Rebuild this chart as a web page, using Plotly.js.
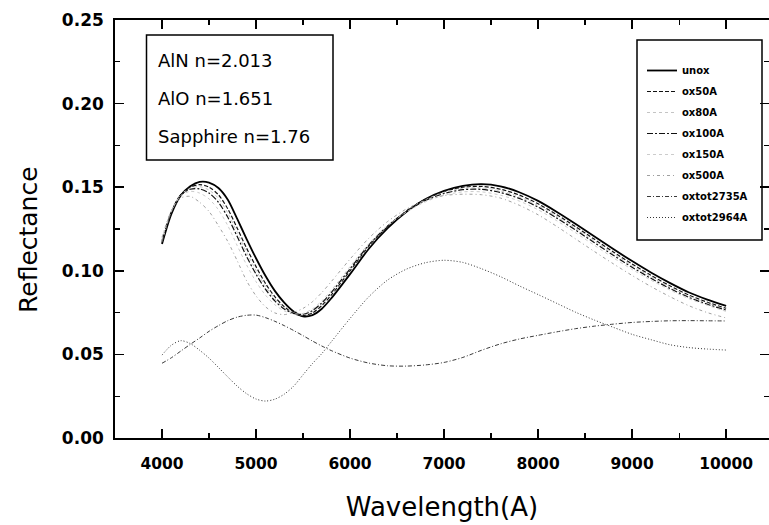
<!DOCTYPE html>
<html>
<head>
<meta charset="utf-8">
<script src="https://cdn.plot.ly/plotly-3.0.1.min.js"></script>
<style>html,body{margin:0;padding:0;background:#fff;}#chart{width:769px;height:525px;}</style>
</head>
<body>
<div id="chart"></div>
<script>
// Wavelength (Angstrom)
var wavelength = [4000,4100,4200,4300,4400,4500,4600,4700,4800,4900,5000,5100,5200,5300,5400,5500,5600,5700,5800,6000,6200,6400,6600,6800,7000,7200,7400,7600,7800,8000,8200,8400,8600,8800,9000,9200,9400,9600,9800,10000];

var unox = [0.1160,0.1340,0.1450,0.1505,0.1532,0.1528,0.1495,0.1425,0.1310,0.1190,0.1075,0.0970,0.0880,0.0810,0.0757,0.0728,0.0735,0.0773,0.0835,0.0980,0.1132,0.1255,0.1353,0.1428,0.1478,0.1508,0.1518,0.1505,0.1470,0.1418,0.1352,0.1280,0.1205,0.1130,0.1058,0.0990,0.0928,0.0872,0.0828,0.0790];
var ox50A = [0.1170,0.1350,0.1455,0.1500,0.1515,0.1500,0.1455,0.1370,0.1255,0.1135,0.1025,0.0925,0.0845,0.0785,0.0745,0.0732,0.0748,0.0792,0.0855,0.1000,0.1148,0.1265,0.1358,0.1428,0.1475,0.1500,0.1505,0.1488,0.1453,0.1401,0.1335,0.1263,0.1188,0.1113,0.1041,0.0973,0.0911,0.0856,0.0812,0.0775];
var ox80A = [0.1175,0.1353,0.1455,0.1494,0.1503,0.1483,0.1433,0.1345,0.1230,0.1110,0.1003,0.0908,0.0833,0.0779,0.0745,0.0736,0.0755,0.0800,0.0863,0.1006,0.1152,0.1267,0.1357,0.1424,0.1469,0.1493,0.1496,0.1478,0.1443,0.1391,0.1325,0.1253,0.1178,0.1103,0.1031,0.0964,0.0903,0.0849,0.0806,0.0770];
var ox100A = [0.1180,0.1355,0.1455,0.1488,0.1490,0.1465,0.1410,0.1320,0.1205,0.1085,0.0980,0.0890,0.0820,0.0772,0.0745,0.0740,0.0762,0.0808,0.0870,0.1012,0.1155,0.1268,0.1355,0.1420,0.1462,0.1485,0.1487,0.1468,0.1433,0.1381,0.1315,0.1243,0.1168,0.1093,0.1021,0.0955,0.0895,0.0842,0.0800,0.0765];
var ox150A = [0.1185,0.1358,0.1450,0.1475,0.1465,0.1430,0.1365,0.1270,0.1150,0.1035,0.0935,0.0855,0.0797,0.0760,0.0743,0.0745,0.0772,0.0820,0.0883,0.1025,0.1162,0.1270,0.1352,0.1412,0.1452,0.1472,0.1472,0.1452,0.1417,0.1365,0.1299,0.1227,0.1152,0.1078,0.1008,0.0944,0.0886,0.0834,0.0794,0.0757];
var ox500A = [0.1200,0.1360,0.1435,0.1445,0.1410,0.1355,0.1270,0.1175,0.1060,0.0940,0.0850,0.0785,0.0748,0.0738,0.0752,0.0775,0.0815,0.0870,0.0935,0.1070,0.1195,0.1295,0.1370,0.1420,0.1450,0.1458,0.1455,0.1435,0.1392,0.1335,0.1265,0.1190,0.1115,0.1042,0.0972,0.0906,0.0846,0.0792,0.0750,0.0718];
var oxtot2735A = [0.0447,0.0480,0.0520,0.0560,0.0598,0.0638,0.0672,0.0702,0.0723,0.0734,0.0735,0.0720,0.0698,0.0672,0.0643,0.0612,0.0580,0.0550,0.0523,0.0478,0.0448,0.0432,0.0430,0.0437,0.0452,0.0482,0.0525,0.0563,0.0592,0.0614,0.0635,0.0654,0.0669,0.0681,0.0691,0.0697,0.0701,0.0702,0.0701,0.0700];
var oxtot2964A = [0.0496,0.0555,0.0582,0.0565,0.0525,0.0478,0.0422,0.0365,0.0310,0.0265,0.0233,0.0221,0.0232,0.0262,0.0310,0.0378,0.0445,0.0505,0.0575,0.0715,0.0845,0.0945,0.1010,0.1048,0.1063,0.1050,0.1012,0.0965,0.0910,0.0858,0.0805,0.0752,0.0705,0.0662,0.0620,0.0588,0.0558,0.0541,0.0532,0.0526];

var seriesNames = ['unox','ox50A','ox80A','ox100A','ox150A','ox500A','oxtot2735A','oxtot2964A'];
var xTickVals = [4000,5000,6000,7000,8000,9000,10000];
var xTickText = ['4000','5000','6000','7000','8000','9000','10000'];
var yTickVals = [0.00,0.05,0.10,0.15,0.20,0.25];
var yTickText = ['0.00','0.05','0.10','0.15','0.20','0.25'];
var infoLines = ['AlN n=2.013','AlO n=1.651','Sapphire n=1.76'];
var xTitle = 'Wavelength(A)';
var yTitle = 'Reflectance';

var seriesData = [unox, ox50A, ox80A, ox100A, ox150A, ox500A, oxtot2735A, oxtot2964A];
var styles = [
  {color:'#000000', width:1.8, dash:'solid'},
  {color:'#111111', width:1.2, dash:'4px,2px'},
  {color:'#c4c4c4', width:1.0, dash:'dot'},
  {color:'#111111', width:1.2, dash:'6px,2px,2px,2px'},
  {color:'#cccccc', width:1.0, dash:'dot'},
  {color:'#a0a0a0', width:1.0, dash:'3px,3px,1px,3px'},
  {color:'#3a3a3a', width:1.0, dash:'4px,2px,1px,2px'},
  {color:'#333333', width:1.0, dash:'1px,2px'}
];

var traces = seriesNames.map(function(n, i){
  return {
    x: wavelength, y: seriesData[i], name: n, type: 'scatter', mode: 'lines',
    line: {color: styles[i].color, width: styles[i].width, dash: styles[i].dash, shape: 'spline', smoothing: 0.8},
    legendgroup: 'g' + i, hoverinfo: 'skip'
  };
});

var W = 769, H = 525;
var L = 115, R = 769, T = 20, B = 438;
function px2paperX(p){ return (p - L) / (R - L); }
function px2paperY(p){ return (B - p) / (B - T); }

var annotations = infoLines.map(function(t, i){
  return {
    text: t, xref: 'paper', yref: 'paper', x: px2paperX(156), y: px2paperY([60, 98.5, 136][i]),
    xanchor: 'left', yanchor: 'middle', showarrow: false,
    font: {family: 'DejaVu Sans', size: 18, color: '#000'}
  };
});
annotations.push({
  text: yTitle, xref: 'paper', yref: 'paper', x: px2paperX(28), y: px2paperY(240),
  xanchor: 'center', yanchor: 'middle', textangle: -90, showarrow: false,
  font: {family: 'DejaVu Sans', size: 25, color: '#000'}
});

var layout = {
  width: W, height: H,
  margin: {l: L, r: W - R, t: T, b: H - B, pad: 0},
  paper_bgcolor: '#fff', plot_bgcolor: '#fff',
  showlegend: true,
  legend: {
    x: px2paperX(642), y: px2paperY(56), xanchor: 'left', yanchor: 'top',
    bgcolor: 'rgba(0,0,0,0)', borderwidth: 0,
    font: {family: 'DejaVu Sans', size: 10, weight: 'bold', color: '#000'},
    traceorder: 'grouped', tracegroupgap: 2, itemwidth: 30
  },
  xaxis: {
    range: [3500, 10456], tickvals: xTickVals, ticktext: xTickText,
    ticks: 'inside', ticklen: 9, tickwidth: 1.5, tickcolor: '#000',
    minor: {dtick: 500, tick0: 3500, ticks: 'inside', ticklen: 5, tickwidth: 1.2, tickcolor: '#000'},
    showline: true, linewidth: 1.8, linecolor: '#000', mirror: 'ticks',
    showgrid: false, zeroline: false,
    tickfont: {family: 'DejaVu Sans', size: 15.5, weight: 'bold', color: '#000'},
    ticklabelstandoff: 11,
    title: {text: xTitle, font: {family: 'DejaVu Sans', size: 26, color: '#000'}, standoff: 25}
  },
  yaxis: {
    range: [0, 0.25], tickvals: yTickVals, ticktext: yTickText,
    ticks: 'inside', ticklen: 9, tickwidth: 1.5, tickcolor: '#000',
    minor: {dtick: 0.025, tick0: 0, ticks: 'inside', ticklen: 5, tickwidth: 1.2, tickcolor: '#000'},
    showline: true, linewidth: 1.8, linecolor: '#000', mirror: 'ticks',
    showgrid: false, zeroline: false,
    tickfont: {family: 'DejaVu Sans', size: 17, weight: 'bold', color: '#000'},
    ticklabelstandoff: 6
  },
  shapes: [
    {type: 'rect', xref: 'paper', yref: 'paper', x0: px2paperX(146.5), x1: px2paperX(333), y0: px2paperY(35), y1: px2paperY(160), line: {color: '#000', width: 1.5}, fillcolor: 'rgba(0,0,0,0)'},
    {type: 'rect', xref: 'paper', yref: 'paper', x0: px2paperX(637), x1: px2paperX(762), y0: px2paperY(40), y1: px2paperY(240), line: {color: '#000', width: 1.5}, fillcolor: 'rgba(0,0,0,0)'}
  ],
  annotations: annotations
};

Plotly.newPlot('chart', traces, layout, {staticPlot: true, displayModeBar: false});
</script>
</body>
</html>
